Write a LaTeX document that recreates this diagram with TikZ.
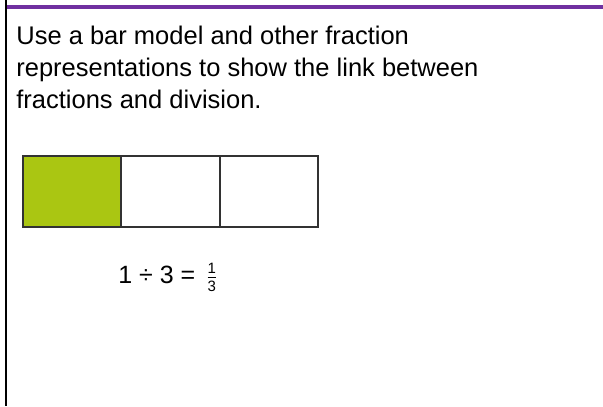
\documentclass[tikz,border=0pt]{standalone}
\usepackage{fontspec}
\setmainfont{Liberation Sans}
\usetikzlibrary{positioning}
\definecolor{framepurple}{RGB}{112,48,160}
\definecolor{bargreen}{RGB}{170,198,18}
\definecolor{bargrey}{RGB}{50,50,50}
\tikzset{every picture/.style={line width=0.75pt}}
\tikzset{
  promptline/.style={anchor=base west, inner sep=0pt, font=\fontsize{25.5}{32}\selectfont},
  barcell/.style={draw=bargrey, line width=1.8pt, minimum width=98.3pt, minimum height=71pt, inner sep=0pt, outer sep=0pt}
}

\begin{document}
\begin{tikzpicture}[x=1pt, y=-1pt]
    \useasboundingbox (0,0) rectangle (603,407);

    % 边框
    \draw[framepurple, line width=3.5pt] (5,7) -- (603,7);
    \draw[black, line width=2pt] (6,0) -- (6,406);

    % 题目文字
    \node[promptline] (line1) at (16,44) {Use a bar model and other fraction};
    \node[promptline] (line2) at (16,76) {representations to show the link between};
    \node[promptline] (line3) at (16,108) {fractions and division.};

    % 条形模型
    \node[barcell, fill=bargreen, anchor=north west] (cellA) at (23,156) {};
    \node[barcell, right=0pt of cellA] (cellB) {};
    \node[barcell, right=0pt of cellB] (cellC) {};

    % 除法算式
    \node[anchor=base west, inner sep=0pt, font=\fontsize{25}{28}\selectfont] (sum) at (118,283)
        {1 ÷ 3 = \,$\frac{\hbox{\fontsize{15}{15}\selectfont 1}}{\hbox{\fontsize{15}{15}\selectfont 3}}$};
\end{tikzpicture}
\end{document}
